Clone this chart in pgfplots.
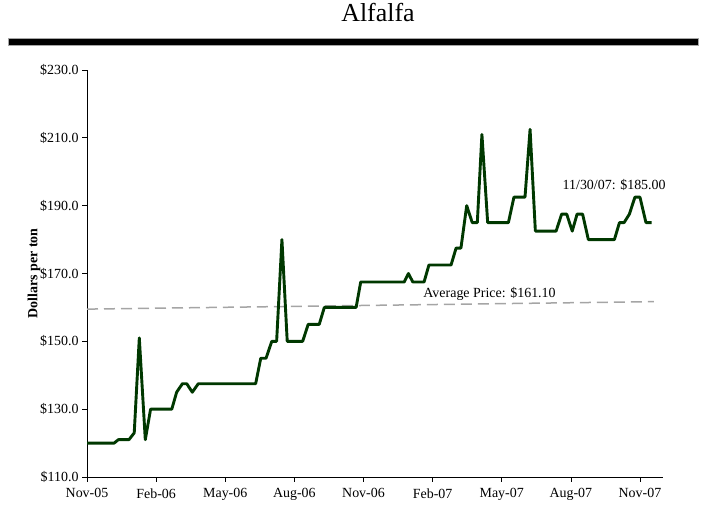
\documentclass[border=0pt]{standalone}
\usepackage{pgfplots}
\pgfplotsset{compat=1.18}
\usepackage{fontspec}
\setmainfont{Liberation Serif}
\definecolor{alfgreen}{RGB}{0,56,0}
\definecolor{avggray}{RGB}{165,165,165}

% weekly alfalfa price, x = months since Nov 2005
\pgfplotstableread{
m      p
0      120
1.18   120
1.36   121
1.82   121
2.05   123
2.27   151
2.53   121
2.76   130
3.68   130
3.89   135
4.14   137.5
4.33   137.5
4.57   135
4.83   137.5
7.32   137.5
7.54   145
7.77   145
8.02   150
8.23   150
8.46   180
8.69   150
9.36   150
9.60   155
10.08  155
10.30  160
11.68  160
11.88  167.5
13.77  167.5
13.95  170
14.14  167.5
14.63  167.5
14.84  172.5
15.80  172.5
16.02  177.5
16.23  177.5
16.48  190
16.72  185
16.94  185
17.14  211
17.39  185
18.29  185
18.53  192.5
19.01  192.5
19.23  212.5
19.46  182.5
20.36  182.5
20.60  187.5
20.82  187.5
21.06  182.5
21.27  187.5
21.51  187.5
21.76  180
22.89  180
23.11  185
23.31  185
23.54  187.5
23.78  192.5
24.00  192.5
24.26  185
24.51  185
}\alfalfa

\begin{document}
\begin{tikzpicture}[x=1bp,y=1bp]
\useasboundingbox (0,0) rectangle (703,507);
\fill[black] (8,462) rectangle (698,469);
\draw[gray!70,line width=0.5bp] (8,462) rectangle (698,469);
\node[font=\fontsize{26}{30}\selectfont,anchor=base] at (378,485) {Alfalfa};
\begin{axis}[
    at={(87bp,30bp)}, anchor=south west,
    scale only axis, width=576bp, height=407bp,
    xmin=0, xmax=25, ymin=110, ymax=230,
    axis x line*=bottom, axis y line*=left,
    axis line style={-, line width=0.7bp},
    tick align=outside, major tick length=5bp,
    tick style={black, line width=0.7bp},
    xtick={0,3,...,24},
    xticklabels={Nov-05,Feb-06,May-06,Aug-06,Nov-06,Feb-07,May-07,Aug-07,Nov-07},
    ytick={110,130,...,230},
    yticklabels={\$110.0,\$130.0,\$150.0,\$170.0,\$190.0,\$210.0,\$230.0},
    tick label style={font=\fontsize{14}{16}\selectfont},
    xticklabel style={yshift=-3bp},
    ylabel={Dollars per ton},
    ylabel style={font=\fontsize{14}{16}\selectfont\bfseries,
        at={(axis description cs:-0.092,0.5)}, anchor=center},
    clip=false,
]
\addplot[avggray, line width=1.5bp, dash pattern=on 11bp off 6bp]
    coordinates {(0,159.5) (24.6,161.7)};
\addplot[alfgreen, line width=2.9bp, line join=round] table[x=m,y=p] {\alfalfa};
\node[font=\fontsize{14}{16}\selectfont] at (axis cs:22.88,196) {11/30/07: \$185.00};
\node[font=\fontsize{14}{16}\selectfont,anchor=west] at (axis cs:14.45,164) {Average Price: \$161.10};
\end{axis}
\end{tikzpicture}
\end{document}
